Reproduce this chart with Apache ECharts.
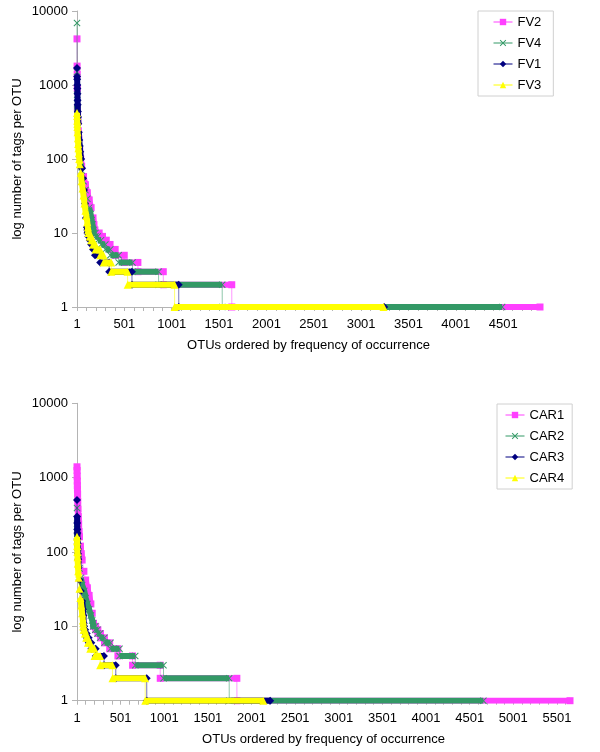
<!DOCTYPE html>
<html>
<head>
<meta charset="utf-8">
<script src="https://cdn.jsdelivr.net/npm/echarts@6/dist/echarts.min.js"></script>
<style>
html,body{margin:0;padding:0;background:#fff;}
#chart{width:600px;height:752px;}
</style>
</head>
<body>
<div id="chart"></div>
<script>
// ---------- DATA ----------
// tail levels (tags per OTU) whose last rank is listed in the *LevelEnd arrays
const tailLevels = [10, 9, 8, 7, 6, 5, 4, 3, 2, 1];
const yTicks = [1, 10, 100, 1000, 10000];

// Top chart (FV samples)
const topNames = ['FV2', 'FV4', 'FV1', 'FV3'];
const topOtuCount = 4890;
const fv2HeadRank = [1, 2, 3, 4, 5, 7, 10, 15, 20, 30, 40, 50, 70, 90, 110, 130, 150, 170, 180, 190];
const fv2HeadTags = [4200, 1800, 1400, 900, 490, 400, 320, 240, 190, 130, 100, 80, 58, 45, 35, 28, 22, 16, 13, 11];
const fv2LevelEnd = [235, 270, 310, 350, 404, 500, 644, 912, 1635, 4890];

const fv4HeadRank = [1, 2, 3, 4, 5, 7, 10, 15, 20, 30, 40, 50, 70, 90, 110, 130, 145, 155, 165, 175];
const fv4HeadTags = [6900, 1500, 740, 560, 450, 370, 290, 210, 165, 115, 88, 70, 50, 38, 29, 22, 18, 15, 13, 11];
const fv4LevelEnd = [195, 220, 255, 300, 352, 440, 587, 862, 1534, 4490];

const fv1HeadRank = [1, 2, 3, 4, 5, 6, 7, 8, 10, 12, 15, 20, 25, 30, 35, 45, 55, 65, 75, 85, 95, 105, 110];
const fv1HeadTags = [1700, 1300, 1200, 1000, 900, 760, 620, 540, 440, 370, 300, 230, 180, 150, 125, 100, 75, 55, 38, 25, 16, 12, 11];
const fv1LevelEnd = [120, 135, 150, 170, 190, 245, 340, 581, 1075, 3245];

const fv3HeadRank = [1, 2, 3, 4, 5, 7, 10, 13, 16, 20, 25, 30, 40, 50, 60, 70, 80, 90, 100, 110, 115, 120];
const fv3HeadTags = [420, 380, 330, 300, 270, 230, 190, 160, 140, 120, 100, 85, 65, 50, 40, 32, 25, 20, 17, 14, 12, 11];
const fv3LevelEnd = [135, 150, 170, 195, 245, 281, 362, 535, 1031, 3238];

// Bottom chart (CAR samples)
const botNames = ['CAR1', 'CAR2', 'CAR3', 'CAR4'];
const botOtuCount = 5651;
const car1HeadRank = [1, 2, 3, 4, 5, 6, 8, 10, 13, 16, 20, 25, 30, 40, 50, 60, 80, 100, 120, 140, 160, 175, 190];
const car1HeadTags = [1400, 1250, 1050, 900, 780, 700, 600, 480, 380, 300, 240, 190, 160, 120, 95, 78, 55, 42, 33, 26, 20, 15, 11];
const car1LevelEnd = [215, 240, 270, 315, 375, 469, 637, 954, 1833, 5651];

const car2HeadRank = [1, 2, 3, 4, 6, 10, 15, 20, 30, 45, 60, 84, 100, 120, 140, 160, 175, 185];
const car2HeadTags = [390, 240, 190, 160, 140, 115, 95, 80, 60, 45, 36, 30, 24, 20, 17, 14, 12, 11];
const car2LevelEnd = [210, 235, 265, 315, 385, 488, 668, 992, 1745, 4658];

const car3HeadRank = [1, 2, 3, 4, 5, 6, 8, 10, 12, 15, 20, 30, 45, 60, 70, 75, 78];
const car3HeadTags = [500, 300, 245, 200, 180, 150, 130, 110, 95, 80, 62, 42, 30, 22, 17, 14, 11];
const car3LevelEnd = [82, 95, 112, 135, 165, 215, 310, 445, 800, 2215];

const car4HeadRank = [1, 2, 3, 5, 7, 10, 15, 20, 30, 40, 50, 60, 68, 72];
const car4HeadTags = [160, 140, 120, 100, 85, 70, 55, 45, 32, 24, 19, 15, 12, 11];
const car4LevelEnd = [76, 90, 105, 125, 152, 201, 266, 407, 782, 2136];

// ---------- STYLE ----------
const colors = ['#ff40ff', '#339966', '#000080', '#ffff00'];
const crossPath = 'path://M0,1L1,0L5,4L9,0L10,1L6,5L10,9L9,10L5,6L1,10L0,9L4,5Z';
const symbols = ['rect', crossPath, 'diamond', 'triangle'];
const symbolSizes = [7, 7, 8, 8];
const FONT = 'Arial, "Liberation Sans", sans-serif';
const HEAD_SPLIT_RATIO = 1.3; // markers separate visually above this jump

function buildSeries(headRank, headTags, levelEnd) {
  const thin = [], band = [];
  for (let i = 0; i < headRank.length; i++) {
    if (i > 0 && headTags[i - 1] / headTags[i] > HEAD_SPLIT_RATIO) band.push([headRank[i - 1] - 1, '-']);
    thin.push([headRank[i] - 1, headTags[i]]);
    band.push([headRank[i] - 1, headTags[i]]);
  }
  let prev = headRank[headRank.length - 1];
  for (let i = 0; i < tailLevels.length; i++) {
    const s = prev + 1, e = levelEnd[i], v = tailLevels[i];
    thin.push([s - 1, v], [e - 1, v]);
    band.push([s - 1, v], [e - 1, v]);
    if (i < tailLevels.length - 1) band.push([e - 1, '-']);
    prev = e;
  }
  return { thin, band };
}

const topSets = [
  buildSeries(fv2HeadRank, fv2HeadTags, fv2LevelEnd),
  buildSeries(fv4HeadRank, fv4HeadTags, fv4LevelEnd),
  buildSeries(fv1HeadRank, fv1HeadTags, fv1LevelEnd),
  buildSeries(fv3HeadRank, fv3HeadTags, fv3LevelEnd)
];
const botSets = [
  buildSeries(car1HeadRank, car1HeadTags, car1LevelEnd),
  buildSeries(car2HeadRank, car2HeadTags, car2LevelEnd),
  buildSeries(car3HeadRank, car3HeadTags, car3LevelEnd),
  buildSeries(car4HeadRank, car4HeadTags, car4LevelEnd)
];

const series = [];
function addSeries(sets, names, axisIndex) {
  sets.forEach((set, i) => {
    series.push({
      name: names[i] + '_line', type: 'line', xAxisIndex: axisIndex, yAxisIndex: axisIndex,
      data: set.thin, symbol: 'none', silent: true, z: 2 + 2 * i,
      lineStyle: { color: colors[i], width: 1, opacity: 0.55 }, itemStyle: { color: colors[i] }
    });
    series.push({
      name: names[i], type: 'line', xAxisIndex: axisIndex, yAxisIndex: axisIndex,
      data: set.band, symbol: symbols[i], symbolSize: symbolSizes[i], showSymbol: true,
      connectNulls: false, z: 3 + 2 * i,
      lineStyle: { color: colors[i], width: 6, cap: 'butt', join: 'round' },
      itemStyle: { color: colors[i], borderWidth: 0 }
    });
  });
}
addSeries(topSets, topNames, 0);
addSeries(botSets, botNames, 1);

const axisGray = '#b4b4b4';
function xAxis(gridIndex, max) {
  return {
    type: 'value', gridIndex, min: 0, max: max, interval: 100,
    name: 'OTUs ordered by frequency of occurrence', nameLocation: 'middle', nameGap: 32,
    nameTextStyle: { color: '#000', fontSize: 13, fontFamily: FONT },
    axisLine: { show: true, lineStyle: { color: axisGray, width: 1 } },
    axisTick: { show: true, inside: false, length: 4, lineStyle: { color: axisGray } },
    axisLabel: {
      color: '#000', fontSize: 13, fontFamily: FONT, margin: 11, showMaxLabel: false,
      formatter: v => (v % 500 === 0 ? String(v + 1) : '')
    },
    splitLine: { show: false }
  };
}
function yAxis(gridIndex) {
  return {
    type: 'log', logBase: 10, gridIndex, min: yTicks[0], max: yTicks[yTicks.length - 1],
    name: 'log number of tags per OTU', nameLocation: 'middle', nameGap: 53, nameRotate: 90,
    nameMoveOverlap: false,
    nameTextStyle: { color: '#000', fontSize: 13, fontFamily: FONT },
    axisLine: { show: true, lineStyle: { color: axisGray, width: 1 } },
    axisTick: { show: true, inside: false, length: 5, lineStyle: { color: axisGray } },
    axisLabel: { color: '#000', fontSize: 13, fontFamily: FONT, margin: 9, formatter: v => String(Math.round(v)) },
    splitLine: { show: false }, minorTick: { show: false }
  };
}

function legend(names, left, top, padding) {
  return {
    data: names, orient: 'vertical', left, top, padding, z: 30,
    itemWidth: 19, itemHeight: 8, itemGap: 7,
    borderColor: '#d0d0d0', borderWidth: 1, backgroundColor: '#fff',
    textStyle: { color: '#000', fontSize: 13, fontFamily: FONT, lineHeight: 14 },
    lineStyle: { width: 1 }, selectedMode: false
  };
}

const option = {
  animation: false,
  backgroundColor: '#fff',
  grid: [
    { left: 77, top: 11, width: 463, height: 296 },
    { left: 77, top: 403.3, width: 493, height: 297.4 }
  ],
  xAxis: [xAxis(0, topOtuCount - 1), xAxis(1, botOtuCount - 1)],
  yAxis: [yAxis(0), yAxis(1)],
  legend: [
    legend(topNames, 478, 11, [4, 12, 4, 15]),
    legend(botNames, 497, 404, [4, 8, 4, 8])
  ],
  series
};

const chart = echarts.init(document.getElementById('chart'), null, { renderer: 'canvas' });
chart.setOption(option);
</script>
</body>
</html>
